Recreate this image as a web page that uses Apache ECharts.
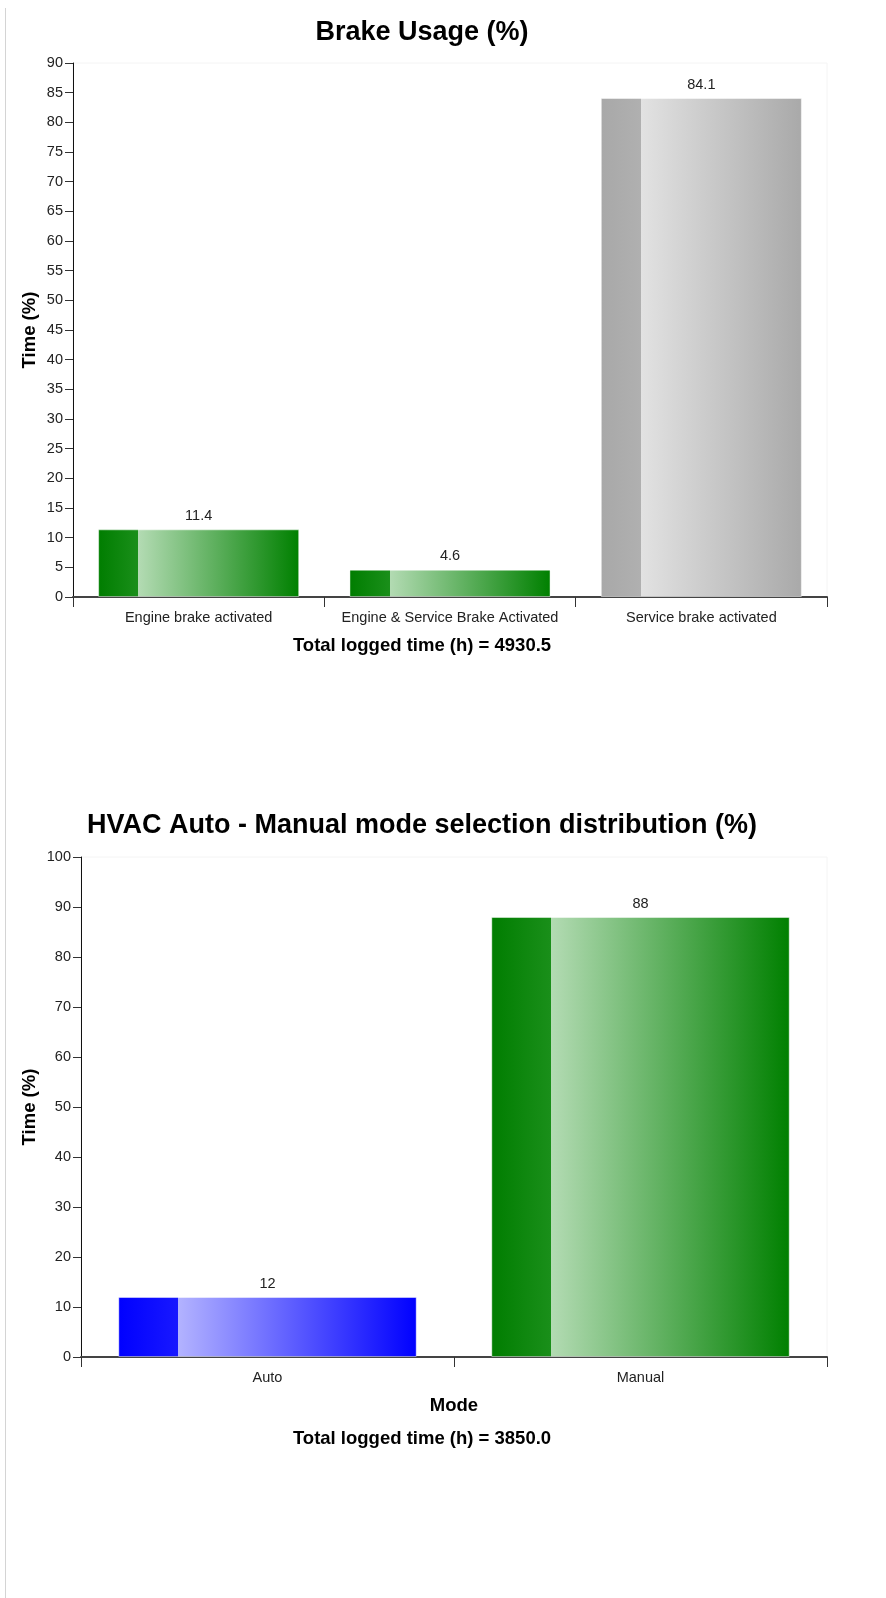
<!DOCTYPE html>
<html>
<head>
<meta charset="utf-8">
<script src="https://cdn.jsdelivr.net/npm/echarts@6/dist/echarts.min.js"></script>
<style>
  html, body { margin: 0; padding: 0; background: #fff; }
  #chart { width: 886px; height: 1598px; position: relative; z-index: 1; }
  #edge { position: absolute; left: 5px; top: 8px; width: 0; height: 1590px; border-left: 1px solid #d4d4d4; z-index: 5; }
</style>
</head>
<body>
<div id="edge"></div>
<div id="chart"></div>
<script>
// ---- data ----
const brakeTitle = 'Brake Usage (%)';
const brakeCategories = ['Engine brake activated', 'Engine & Service Brake Activated', 'Service brake activated'];
const brakeValues = [11.4, 4.6, 84.1];
const brakeTotalHours = 4930.5;

const hvacTitle = 'HVAC Auto - Manual mode selection distribution (%)';
const hvacCategories = ['Auto', 'Manual'];
const hvacValues = [12, 88];
const hvacTotalHours = 3850.0;

const yAxisName = 'Time (%)';
const hvacXAxisName = 'Mode';

// ---- styles ----
const FONT = '"Liberation Sans", Arial, sans-serif';
const PALETTE = {
  green: { d0: '#007d00', d1: '#1a8f1a', light: '#b3dbb3', end: '#008000' },
  gray:  { d0: '#a8a8a8', d1: '#b0b0b0', light: '#e2e2e2', end: '#a9a9a9' },
  blue:  { d0: '#0000ff', d1: '#1818ff', light: '#b3b3ff', end: '#0000ff' }
};
const brakeBarColors = ['green', 'green', 'gray'];
const hvacBarColors = ['blue', 'green'];

function grad(key) {
  const p = PALETTE[key];
  return {
    type: 'linear', x: 0, y: 0, x2: 1, y2: 0,
    colorStops: [
      { offset: 0, color: p.d0 },
      { offset: 0.2, color: p.d1 },
      { offset: 0.2, color: p.light },
      { offset: 1, color: p.end }
    ]
  };
}
function items(values, colors) {
  return values.map((v, i) => ({
    value: v,
    itemStyle: { color: grad(colors[i]), borderColor: 'rgba(255,255,255,0.45)', borderWidth: 1 }
  }));
}

const labelStyle = { color: '#222', fontSize: 14.5, fontFamily: FONT };
function yAxisCfg(gridIndex, max, interval, nameGap) {
  return {
    type: 'value', gridIndex, min: 0, max, interval,
    name: yAxisName, nameLocation: 'middle', nameGap, nameMoveOverlap: false,
    nameTextStyle: { color: '#000', fontSize: 18.5, fontWeight: 'bold', fontFamily: FONT },
    axisLine: { show: true, lineStyle: { color: '#111', width: 1 } },
    axisTick: { show: true, length: 8, lineStyle: { color: '#333' } },
    axisLabel: Object.assign({ margin: 10 }, labelStyle),
    splitLine: { show: false }
  };
}
function xAxisCfg(gridIndex, cats, name) {
  return {
    type: 'category', gridIndex, data: cats,
    name: name || '', nameLocation: 'middle', nameGap: 39, nameMoveOverlap: false,
    nameTextStyle: { color: '#000', fontSize: 18.5, fontWeight: 'bold', fontFamily: FONT },
    axisLine: { show: true, lineStyle: { color: '#444', width: 2 } },
    axisTick: { show: true, length: 10, lineStyle: { color: '#333' } },
    axisLabel: Object.assign({ margin: 13, interval: 0 }, labelStyle),
    splitLine: { show: false }
  };
}
const barLabel = Object.assign({ show: true, position: 'top', distance: 6 }, labelStyle);

const chart = echarts.init(document.getElementById('chart'), null, { renderer: 'canvas' });
chart.setOption({
  animation: false,
  backgroundColor: 'transparent',
  title: [
    { text: brakeTitle, left: 422, top: 19, textAlign: 'center', padding: 0,
      textStyle: { fontSize: 27, fontWeight: 'bold', color: '#000', fontFamily: FONT } },
    { text: 'Total logged time (h) = ' + brakeTotalHours.toFixed(1), left: 422, top: 636, textAlign: 'center', padding: 0,
      textStyle: { fontSize: 18.5, fontWeight: 'bold', color: '#000', fontFamily: FONT } },
    { text: hvacTitle, left: 422, top: 812, textAlign: 'center', padding: 0,
      textStyle: { fontSize: 27, fontWeight: 'bold', color: '#000', fontFamily: FONT } },
    { text: 'Total logged time (h) = ' + hvacTotalHours.toFixed(1), left: 422, top: 1429, textAlign: 'center', padding: 0,
      textStyle: { fontSize: 18.5, fontWeight: 'bold', color: '#000', fontFamily: FONT } }
  ],
  grid: [
    { left: 73, top: 63, width: 754, height: 534, show: true, borderColor: '#f4f4f4', borderWidth: 1, backgroundColor: 'transparent' },
    { left: 81, top: 857, width: 746, height: 500, show: true, borderColor: '#f4f4f4', borderWidth: 1, backgroundColor: 'transparent' }
  ],
  xAxis: [
    xAxisCfg(0, brakeCategories, ''),
    xAxisCfg(1, hvacCategories, hvacXAxisName)
  ],
  yAxis: [
    yAxisCfg(0, 90, 5, 34),
    yAxisCfg(1, 100, 10, 42)
  ],
  series: [
    { type: 'bar', xAxisIndex: 0, yAxisIndex: 0, barCategoryGap: '20%',
      data: items(brakeValues, brakeBarColors), label: barLabel },
    { type: 'bar', xAxisIndex: 1, yAxisIndex: 1, barCategoryGap: '20%',
      data: items(hvacValues, hvacBarColors), label: barLabel }
  ]
});
</script>
</body>
</html>
